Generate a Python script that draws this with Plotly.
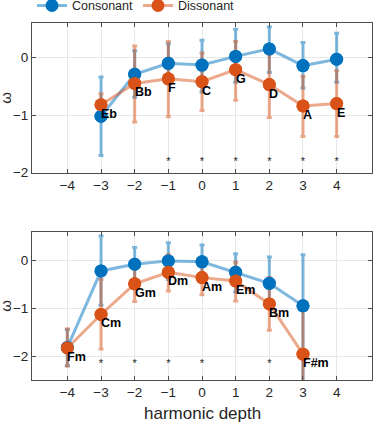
import plotly.graph_objects as go

# ---------------- data ----------------
depth_top = [-3, -2, -1, 0, 1, 2, 3, 4]
labels_top = ['Eb', 'Bb', 'F', 'C', 'G', 'D', 'A', 'E']
cons_top = [-1.02, -0.29, -0.10, -0.13, 0.02, 0.15, -0.14, -0.03]
cons_top_hi = [-0.34, 0.12, 0.24, 0.30, 0.49, 0.53, 0.26, 0.42]
cons_top_lo = [-1.70, -0.69, -0.45, -0.60, -0.43, -0.26, -0.53, -0.43]
diss_top = [-0.82, -0.45, -0.37, -0.42, -0.21, -0.47, -0.84, -0.80]
diss_top_hi = [-0.63, 0.20, 0.28, 0.08, 0.28, 0.06, -0.33, -0.23]
diss_top_lo = [-0.99, -1.12, -1.03, -0.92, -0.74, -1.04, -1.37, -1.37]
sig_top = [-1, 0, 1, 2, 3, 4]

depth_bot = [-4, -3, -2, -1, 0, 1, 2, 3]
labels_bot = ['Fm', 'Cm', 'Gm', 'Dm', 'Am', 'Em', 'Bm', 'F#m']
cons_bot = [-1.82, -0.22, -0.08, -0.01, -0.03, -0.25, -0.48, -0.95]
cons_bot_hi = [-1.45, 0.51, 0.27, 0.37, 0.32, 0.14, 0.07, 0.12]
cons_bot_lo = [-2.20, -0.94, -0.45, -0.40, -0.38, -0.66, -0.99, -2.70]
diss_bot = [-1.83, -1.13, -0.49, -0.25, -0.36, -0.43, -0.91, -1.96]
diss_bot_hi = [-1.43, -0.40, -0.14, 0.12, 0.00, -0.04, -0.36, -0.89]
diss_bot_lo = [-2.21, -1.85, -0.86, -0.64, -0.72, -0.85, -1.46, -3.00]
sig_bot = [-3, -2, -1, 0, 2]

x_ticks = [-4, -3, -2, -1, 0, 1, 2, 3, 4]

BLUE = 'rgb(0,114,189)'
BLUE_A = 'rgba(0,114,189,0.5)'
ORANGE = 'rgb(217,83,25)'
ORANGE_A = 'rgba(217,83,25,0.5)'
FONT = 'Liberation Sans, Arial, sans-serif'

fig = go.Figure()


def add_series(x, y, hi, lo, color, color_a, name, xa, ya, legend):
    fig.add_trace(go.Scatter(
        x=x, y=y, mode='lines+markers', name=name, showlegend=legend,
        xaxis=xa, yaxis=ya,
        line=dict(color=color_a, width=3),
        marker=dict(color=color, size=13),
        error_y=dict(type='data', symmetric=False,
                     array=[h - v for h, v in zip(hi, y)],
                     arrayminus=[v - l for v, l in zip(y, lo)],
                     color=color_a, thickness=3, width=2.5),
    ))


def add_markers(x, y, color, xa, ya):
    fig.add_trace(go.Scatter(x=x, y=y, mode='markers', showlegend=False,
                             xaxis=xa, yaxis=ya,
                             marker=dict(color=color, size=13)))


add_series(depth_top, cons_top, cons_top_hi, cons_top_lo, BLUE, BLUE_A, 'Consonant', 'x', 'y', True)
add_series(depth_top, diss_top, diss_top_hi, diss_top_lo, ORANGE, ORANGE_A, 'Dissonant', 'x', 'y', True)
add_series(depth_bot, cons_bot, cons_bot_hi, cons_bot_lo, BLUE, BLUE_A, 'Consonant', 'x2', 'y2', False)
add_series(depth_bot, diss_bot, diss_bot_hi, diss_bot_lo, ORANGE, ORANGE_A, 'Dissonant', 'x2', 'y2', False)
add_markers(depth_top, cons_top, BLUE, 'x', 'y')
add_markers(depth_top, diss_top, ORANGE, 'x', 'y')
add_markers(depth_bot, cons_bot, BLUE, 'x2', 'y2')
add_markers(depth_bot, diss_bot, ORANGE, 'x2', 'y2')

# significance asterisks
fig.add_trace(go.Scatter(x=sig_top, y=[-1.81] * len(sig_top), mode='text', text=['*'] * len(sig_top),
                         textfont=dict(size=11, color='#222', family=FONT), showlegend=False,
                         xaxis='x', yaxis='y', cliponaxis=False))
fig.add_trace(go.Scatter(x=sig_bot, y=[-2.17] * len(sig_bot), mode='text', text=['*'] * len(sig_bot),
                         textfont=dict(size=11, color='#222', family=FONT), showlegend=False,
                         xaxis='x2', yaxis='y2', cliponaxis=False))

annotations = []
for xv, yv, t in zip(depth_top, diss_top, labels_top):
    annotations.append(dict(x=xv, y=yv, xref='x', yref='y', text='<b>%s</b>' % t, showarrow=False,
                            xanchor='left', yanchor='middle', yshift=-9, xshift=-2,
                            font=dict(size=12.5, color='black', family=FONT)))
for xv, yv, t in zip(depth_bot, diss_bot, labels_bot):
    annotations.append(dict(x=xv, y=yv, xref='x2', yref='y2', text='<b>%s</b>' % t, showarrow=False,
                            xanchor='left', yanchor='middle', yshift=-9, xshift=-2,
                            font=dict(size=12.5, color='black', family=FONT)))
# y-axis titles (omega)
for ycen in [0.79, 0.2077]:
    annotations.append(dict(x=-0.077, y=ycen, xref='paper', yref='paper', text='ω', showarrow=False,
                            textangle=-90, xanchor='center', yanchor='middle',
                            font=dict(size=15, color='#262626', family=FONT)))
annotations.append(dict(x=0.5, y=-33 / 357, xref='paper', yref='paper', text='harmonic depth',
                        showarrow=False, xanchor='center', yanchor='middle',
                        font=dict(size=17, color='#262626', family=FONT)))

axis_common = dict(showline=True, linecolor='#4d4d4d', linewidth=1, mirror='ticks',
                   ticks='inside', ticklen=4, tickcolor='#4d4d4d',
                   showgrid=True, gridcolor='#e8e8e8', gridwidth=1, zeroline=False,
                   tickfont=dict(size=13.5, color='#262626', family=FONT))

fig.update_layout(
    width=374, height=423,
    margin=dict(l=32, r=1.5, t=23, b=43, autoexpand=False),
    paper_bgcolor='white', plot_bgcolor='white',
    font=dict(family=FONT, color='#262626'),
    showlegend=True,
    legend=dict(orientation='h', x=0.0, y=1.048, xanchor='left', yanchor='middle',
                font=dict(size=12.5, color='#262626', family=FONT), bgcolor='rgba(0,0,0,0)',
                itemwidth=30),
    xaxis=dict(domain=[0, 1], range=[-5.05, 5.05], tickvals=x_ticks, anchor='y', **axis_common),
    yaxis=dict(domain=[0.5807, 1], range=[-2, 0.6], tickvals=[-2, -1, 0], anchor='x', **axis_common),
    xaxis2=dict(domain=[0, 1], range=[-5.05, 5.05], tickvals=x_ticks, anchor='y2', **axis_common),
    yaxis2=dict(domain=[0, 0.4154], range=[-2.5, 0.6], tickvals=[-2, -1, 0], anchor='x2', **axis_common),
    annotations=annotations,
)

fig.write_html('out.html', config={'displayModeBar': False},
               post_script="document.body.style.margin='0';document.body.style.overflow='hidden';")
